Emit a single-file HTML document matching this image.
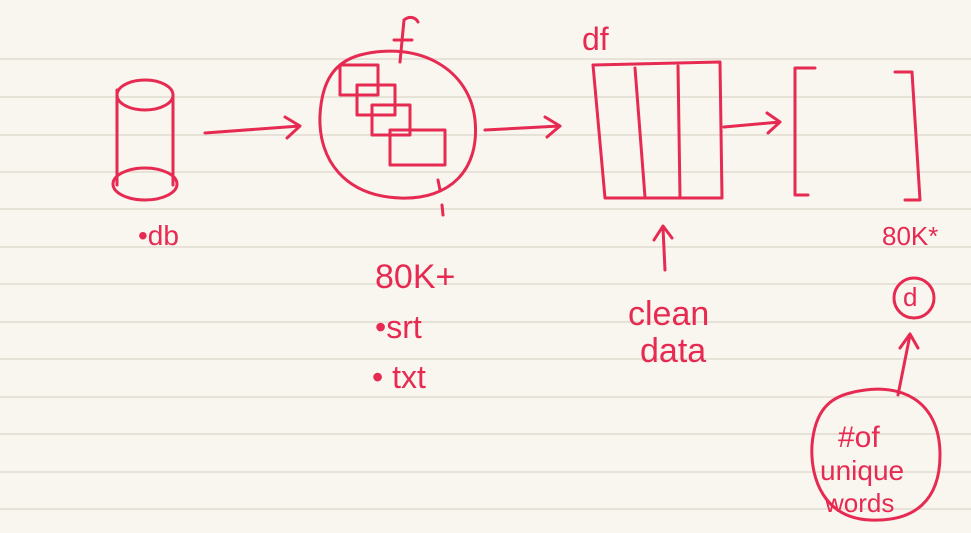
<!DOCTYPE html>
<html><head><meta charset="utf-8">
<style>
html,body{margin:0;padding:0;background:#f8f6ee;}
svg{display:block;}
text{font-family:"Liberation Sans",sans-serif;fill:#e62a52;}
</style></head>
<body>
<svg width="971" height="533" viewBox="0 0 971 533">
<rect width="971" height="533" fill="#f8f6ee"/>
<g stroke="#e6e2d7" stroke-width="2">
<line x1="0" y1="59" x2="971" y2="59"/><line x1="0" y1="97" x2="971" y2="97"/>
<line x1="0" y1="135" x2="971" y2="135"/><line x1="0" y1="172" x2="971" y2="172"/>
<line x1="0" y1="209" x2="971" y2="209"/><line x1="0" y1="247" x2="971" y2="247"/>
<line x1="0" y1="284" x2="971" y2="284"/><line x1="0" y1="322" x2="971" y2="322"/>
<line x1="0" y1="359" x2="971" y2="359"/><line x1="0" y1="397" x2="971" y2="397"/>
<line x1="0" y1="434" x2="971" y2="434"/><line x1="0" y1="472" x2="971" y2="472"/>
<line x1="0" y1="509" x2="971" y2="509"/>
</g>
<g fill="none" stroke="#e62a52" stroke-width="3" stroke-linecap="round" stroke-linejoin="round">
<g>
<ellipse cx="145" cy="95" rx="28" ry="15"/>
<line x1="117" y1="90" x2="117" y2="185"/><line x1="173" y1="95" x2="173" y2="185"/>
<ellipse cx="145" cy="184" rx="32" ry="16"/>
</g>
<g><path d="M205 133 L300 126 M285 117 L300 126 L287 138"/></g>
<g>
<path d="M360 55 C420 40 470 70 475 120 C480 170 450 200 400 198 C345 196 318 160 320 115 C322 80 335 62 360 55Z"/>
<rect x="340" y="65" width="38" height="30"/><rect x="357" y="85" width="38" height="30"/>
<rect x="372" y="105" width="38" height="30"/><rect x="390" y="130" width="55" height="35"/>
<path d="M404 20 L400 62 M394 40 L412 40 M404 20 C410 15 416 18 418 22"/>
<path d="M438 180 L440 190 M442 205 L443 215"/>
</g>
<g><path d="M485 130 L560 126 M545 117 L560 126 L547 137"/></g>
<g>
<path d="M593 65 L720 62 L722 198 L605 198 Z"/>
<line x1="635" y1="68" x2="645" y2="197"/><line x1="678" y1="66" x2="680" y2="197"/>
</g>
<g><path d="M724 127 L780 122 M767 113 L780 122 L768 133"/></g>
<g>
<path d="M815 68 L795 68 L795 195 L808 195"/><path d="M895 72 L912 72 L920 200 L905 200"/>
</g>
<g><path d="M665 270 L663 228 M654 240 L663 226 L672 238"/></g>
<g><circle cx="914" cy="298" r="20"/></g>
<g><path d="M898 395 L910 335 M900 348 L910 334 L918 348"/></g>
<g><path d="M850 393 C900 380 940 400 940 455 C940 500 915 522 870 520 C825 518 810 480 812 445 C815 410 830 398 850 393Z"/></g>
</g>
<text x="138" y="245" font-size="28">•db</text>
<text x="582" y="50" font-size="32">df</text>
<text x="375" y="288" font-size="34">80K+</text>
<text x="375" y="338" font-size="32">•srt</text>
<text x="372" y="388" font-size="32">• txt</text>
<text x="628" y="325" font-size="34">clean</text>
<text x="640" y="362" font-size="34">data</text>
<text x="882" y="245" font-size="26">80K*</text>
<text x="903" y="306" font-size="26">d</text>
<text x="838" y="447" font-size="30">#of</text>
<text x="820" y="480" font-size="28">unique</text>
<text x="825" y="512" font-size="26">words</text>
</svg>
</body></html>
